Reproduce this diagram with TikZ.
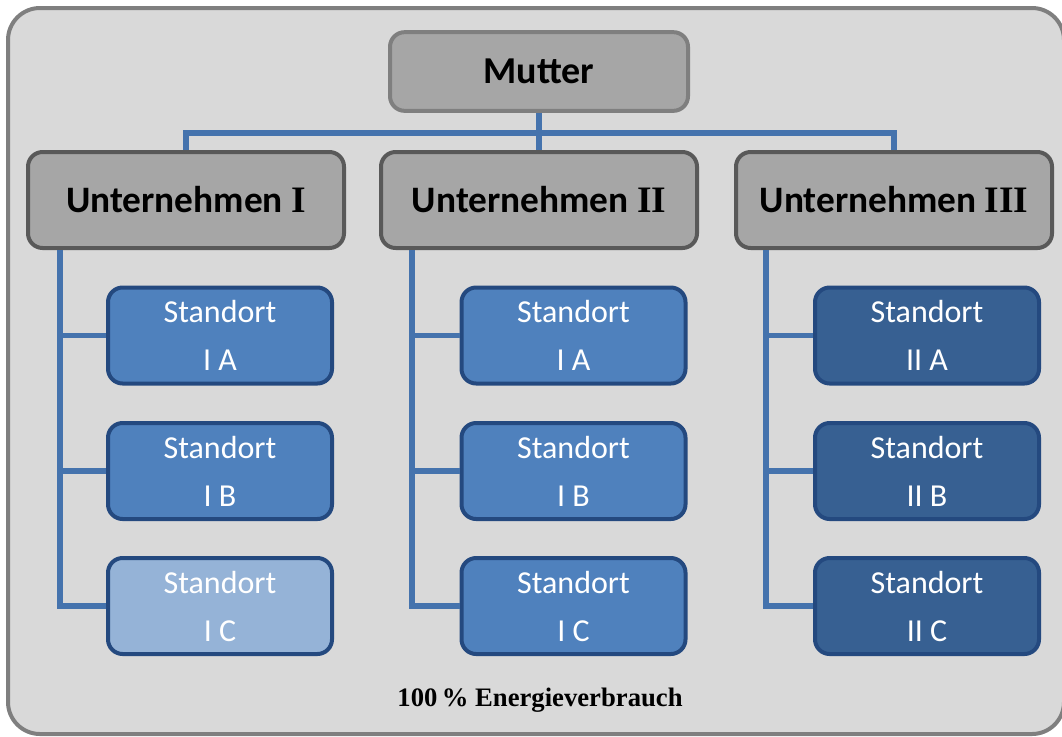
\documentclass[tikz,border=0pt]{standalone}
\usepackage{fontspec}
\setmainfont{Carlito}
\newfontfamily\numserif{Liberation Serif}
\definecolor{framegray}{HTML}{7F7F7F}
\definecolor{framefill}{HTML}{D9D9D9}
\definecolor{boxgray}{HTML}{A6A6A6}
\definecolor{edgegray}{HTML}{595959}
\definecolor{siteblue}{HTML}{4F81BD}
\definecolor{sitelight}{HTML}{95B3D7}
\definecolor{sitedark}{HTML}{376092}
\definecolor{siteedge}{HTML}{24497F}
\definecolor{linkblue}{HTML}{4573AD}
\tikzset{
    parent/.style = {draw = framegray, fill = boxgray, line width = 3pt, rounded corners = 11pt,
        inner sep = 0pt, minimum width = 223.5pt, minimum height = 59pt,
        font = \fontsize{28.5}{32}\selectfont\bfseries},
    company/.style = {draw = edgegray, fill = boxgray, line width = 3pt, rounded corners = 11pt,
        inner sep = 0pt, minimum width = 237pt, minimum height = 72pt,
        font = \fontsize{28}{32}\selectfont\bfseries},
    site/.style = {draw = siteedge, fill = siteblue, line width = 3pt, rounded corners = 11pt,
        inner sep = 0pt, minimum width = 168pt, minimum height = 72pt, text = white,
        align = center, font = \fontsize{24}{36}\selectfont},
    link/.style = {draw = linkblue, line width = 3.8pt}
}
\begin{document}
\begin{tikzpicture}[x = 0.75pt, y = -0.75pt]
                \useasboundingbox (0, 0) rectangle (1062, 736);
                \draw [framegray, fill = framefill, line width = 3pt, rounded corners = 24pt]
                    (8, 8) rectangle (1064, 734)
                ;
                % top level
                \node [parent] (mutter) at (539, 71.5) {Mutter};
                \node [company] (u1) at (186, 200) {Unternehmen {\numserif I}};
                \node [company] (u2) at (539, 200) {Unternehmen {\numserif II}};
                \node [company] (u3) at (894, 200) {Unternehmen {\numserif III}};
                \coordinate (bus) at (539, 133);
                \draw [link] (mutter) -- (bus);
                \draw [link] (u1.north) |- (bus) -| (u3.north);
                \draw [link] (bus) -- (u2.north);

                % sites
                \node [site] (s1a) at (220, 335.5) {Standort\\I A};
                \node [site] (s1b) at (220, 471) {Standort\\I B};
                \node [site, fill = sitelight] (s1c) at (220, 606) {Standort\\I C};
                \node [site] (s2a) at (573.5, 335.5) {Standort\\I A};
                \node [site] (s2b) at (573.5, 471) {Standort\\I B};
                \node [site] (s2c) at (573.5, 606) {Standort\\I C};
                \node [site, fill = sitedark] (s3a) at (927, 335.5) {Standort\\II A};
                \node [site, fill = sitedark] (s3b) at (927, 471) {Standort\\II B};
                \node [site, fill = sitedark] (s3c) at (927, 606) {Standort\\II C};

                \coordinate (t1) at (60, 250);
                \coordinate (t2) at (412, 250);
                \coordinate (t3) at (766, 250);
                \draw [link] (t1) |- (s1a.west) (t1) |- (s1b.west) (t1) |- (s1c.west);
                \draw [link] (t2) |- (s2a.west) (t2) |- (s2b.west) (t2) |- (s2c.west);
                \draw [link] (t3) |- (s3a.west) (t3) |- (s3b.west) (t3) |- (s3c.west);

                \node [font = \numserif\fontsize{20}{22}\selectfont\bfseries] (total) at (540, 700)
                    {100\,\% Energieverbrauch};
            \end{tikzpicture}
\end{document}
